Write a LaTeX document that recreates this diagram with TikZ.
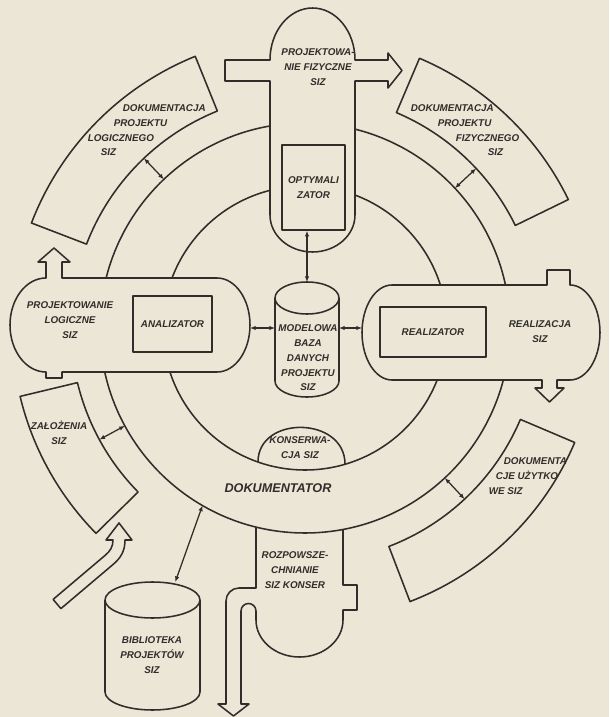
\documentclass[tikz,border=0pt]{standalone}
\usepackage{fontspec}
\setmainfont{Liberation Sans}
\usetikzlibrary{arrows.meta}
\definecolor{paper}{RGB}{236,230,214}
\definecolor{ink}{RGB}{48,45,42}
\tikzset{
	lbl/.style={font=\fontsize{7}{10.5}\selectfont\bfseries\itshape, align=center, inner sep=0pt},
	modul/.style={lbl, draw, fill=paper},
	slot/.style={inner sep=0pt, outer sep=0pt},
	link/.style={line width=0.9pt, {Latex[length=4pt,width=3.2pt]}-{Latex[length=4pt,width=3.2pt]}}
}
\begin{document}
\begin{tikzpicture}[x=0.25mm, y=0.25mm, color=ink, line width=1.1pt, line join=round]
	\pgfmathsetmacro{\ri}{142}
	\pgfmathsetmacro{\ro}{205}
	\pgfmathsetmacro{\si}{234}
	\pgfmathsetmacro{\so}{293}
	\useasboundingbox (-305,-389) rectangle (304,328);
	\fill[paper] (-305,-389) rectangle (304,328);
	\draw (0,0) circle[radius=\ri];
	\draw (0,0) circle[radius=\ro];
	\foreach \a/\b/\c/\nm in {112/159/133.5/logi, 26/67/43/fiz, -69/-23/-47/uzyt, 193.5/224.5/208.5/zal} {
		\draw (\a:\si) arc[start angle=\a, end angle=\b, radius=\si] -- (\b:\so)
			arc[start angle=\b, end angle=\a, radius=\so] -- cycle;
		\coordinate (\nm-a) at (\c:\ro);
		\coordinate (\nm-b) at (\c:\si);
		\draw[link] (\nm-a) -- (\nm-b);
	}
	\draw[fill=paper] (-35,247) -- (-35,113) arc[start angle=180, end angle=360, x radius=42.5, y radius=37]
		-- (50,247) -- (83,247) -- (83,240) -- (97,257.5) -- (83,275) -- (83,268) -- (50,268)
		arc[start angle=0, end angle=180, x radius=42.5, y radius=52] -- (-80,268) -- (-80,247) -- cycle;
	\draw[fill=paper] (-243,50) -- (-243,66) -- (-235,66) -- (-251,80) -- (-267,66) -- (-259,66) -- (-259,50)
		arc[start angle=90, end angle=270, x radius=36, y radius=47] -- (-259,-50) -- (-243,-50) -- (-243,-44)
		-- (-88,-44) arc[start angle=-90, end angle=90, x radius=33, y radius=47] -- cycle;
	\draw[fill=paper] (87,43) -- (242,43) -- (242,58) -- (265,58) -- (265,43)
		arc[start angle=90, end angle=-90, x radius=30, y radius=47.5] -- (252,-52) -- (252,-60) -- (259,-60)
		-- (244.5,-74) -- (230,-60) -- (237,-60) -- (237,-52) -- (87,-52)
		arc[start angle=270, end angle=90, x radius=30, y radius=47.5] -- cycle;
	\draw (-47,-134) .. controls (-47,-87) and (40,-88) .. (40,-136.2);
	\draw (-49,-199.1) -- (-49,-260) -- (-66,-260) to[out=180,in=90] (-79,-273) -- (-79,-376) -- (-87,-376)
		-- (-71.5,-388) -- (-56,-376) -- (-64,-376) -- (-64,-283) arc[start angle=180, end angle=0, radius=7.5]
		-- (-49,-292) arc[start angle=180, end angle=360, x radius=43.5, y radius=37]
		-- (38,-282) -- (52,-282) -- (52,-257) -- (38,-257) -- (38,-201.4);
	\draw (-244.1,-280.6) -- (-192.1,-236.6) to[out=40,in=-90] (-180,-212) -- (-173,-212) -- (-186,-195)
		-- (-199,-212) -- (-192,-212) to[out=-90,in=40] (-199.9,-227.4) -- (-251.9,-271.4) -- cycle;

	\node[modul, minimum width=15.75mm, minimum height=21.25mm] (opt) at (8.5,140.5) {OPTYMALI\\ZATOR};
	\node[modul, minimum width=19.75mm, minimum height=14mm] (anal) at (-132.5,4) {ANALIZATOR};
	\node[modul, minimum width=26.5mm, minimum height=12.5mm] (real) at (128,-4) {REALIZATOR};
	\node[slot, minimum width=16mm, minimum height=28.75mm] (baza) at (2,-11.5) {};
	\draw[fill=paper] ([yshift=-4mm]baza.north west) -- ([yshift=4mm]baza.south west)
		arc[start angle=180, end angle=360, x radius=32, y radius=16] -- ([yshift=-4mm]baza.north east)
		arc[start angle=0, end angle=180, x radius=32, y radius=16]
		arc[start angle=180, end angle=360, x radius=32, y radius=16];
	\node[slot, minimum width=23.75mm, minimum height=32mm] (bib) at (-152.5,-318) {};
	\draw[fill=paper] ([yshift=-4.5mm]bib.north west) -- ([yshift=4.5mm]bib.south west)
		arc[start angle=180, end angle=360, x radius=47.5, y radius=18] -- ([yshift=-4.5mm]bib.north east)
		arc[start angle=0, end angle=180, x radius=47.5, y radius=18]
		arc[start angle=180, end angle=360, x radius=47.5, y radius=18];
	\coordinate (plog-e) at (-55,0);
	\coordinate (real-w) at (57,0);
	\coordinate (ring-bib) at (240:\ro);
	\draw[link] (opt.south -| baza.north) -- (baza.north);
	\draw[link] (plog-e) -- (plog-e -| baza.west);
	\draw[link] (baza.east |- real-w) -- (real-w);
	\draw[link] (ring-bib) -- (bib);

	\node[lbl] (fiz-t) at (13,261) {PROJEKTOWA-\\NIE FIZYCZNE\\SIZ};
	\node[lbl] (plog-t) at (-235,8) {PROJEKTOWANIE\\LOGICZNE\\SIZ};
	\node[lbl] (real-t) at (235,-3.5) {REALIZACJA\\SIZ};
	\node[lbl] (baza-t) at (3,-30) {MODELOWA\\BAZA\\DANYCH\\PROJEKTU\\SIZ};
	\node[lbl] (bib-t) at (-153,-327) {BIBLIOTEKA\\PROJEKTÓW\\SIZ};
	\node[lbl] (kons-t) at (-5,-119.5) {KONSERWA-\\CJA SIZ};
	\node[lbl] (rozp-t) at (-10,-242) {ROZPOWSZE-\\CHNIANIE\\SIZ KONSER};
	\node[lbl, font=\fontsize{9}{11}\selectfont\bfseries\itshape] (dok-t) at (-27,-160) {DOKUMENTATOR};
	\node[lbl, align=left, anchor=north west] (logi-t) at (-218,224)
		{\hspace*{8.75mm}DOKUMENTACJA\\\hspace*{6.5mm}PROJEKTU\\LOGICZNEGO\\\hspace*{3.25mm}SIZ};
	\node[lbl, align=left, anchor=north west] (fiz-d) at (105,224)
		{DOKUMENTACJA\\\hspace*{6.75mm}PROJEKTU\\\hspace*{11.25mm}FIZYCZNEGO\\\hspace*{19.25mm}SIZ};
	\node[lbl, align=left, anchor=north west] (uzyt-t) at (183,-129)
		{\hspace*{3.75mm}DOKUMENTA\\\hspace*{1.75mm}CJE UŻYTKO\\WE SIZ};
	\node[lbl] (zal-t) at (-246,-104.5) {ZAŁOŻENIA\\SIZ};
\end{tikzpicture}
\end{document}
